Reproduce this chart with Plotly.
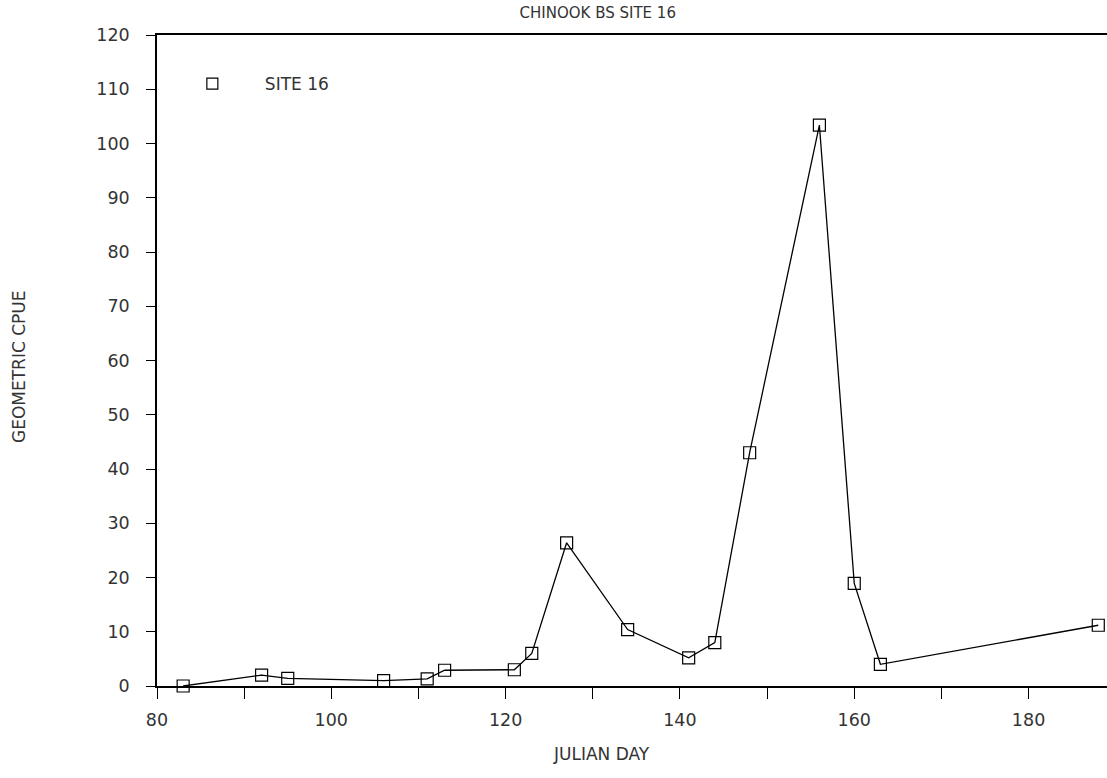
import plotly.graph_objects as go

# Julian day of each sample and the geometric CPUE for site 16
julian_day = [83, 92, 95, 106, 111, 113, 121, 123, 127, 134, 141, 144, 148, 156, 160, 163, 188]
cpue = [0.0, 2.0, 1.4, 1.0, 1.3, 2.9, 3.0, 6.0, 26.4, 10.4, 5.2, 8.0, 43.0, 103.4, 18.9, 4.0, 11.2]

series_name = "SITE 16"
chart_title = "CHINOOK BS SITE 16"
x_title = "JULIAN DAY"
y_title = "GEOMETRIC CPUE"

FONT = "DejaVu Sans, Verdana, sans-serif"
INK = "#333"

fig = go.Figure()

fig.add_trace(go.Scatter(
    x=julian_day, y=cpue,
    mode="lines+markers",
    line=dict(color="black", width=1.3),
    marker=dict(symbol="square-open", size=12, color="black", line=dict(width=1.2)),
    showlegend=False,
    cliponaxis=False,
))

# legend entry shows only the square symbol
fig.add_trace(go.Scatter(
    x=[None], y=[None],
    mode="markers",
    name=series_name,
    marker=dict(symbol="square-open", size=11, color="black", line=dict(width=1.2)),
))

fig.update_layout(
    width=1107, height=778,
    margin=dict(l=157, r=0, t=35, b=92),
    paper_bgcolor="white",
    plot_bgcolor="white",
    font=dict(family=FONT, size=15, color=INK),
    title=dict(text=chart_title, x=0.54, xanchor="center", y=0.983, yanchor="middle",
               font=dict(size=15, family=FONT, color=INK)),
    legend=dict(x=0.003, y=0.9247, xanchor="left", yanchor="middle",
                bgcolor="rgba(0,0,0,0)", itemwidth=95,
                font=dict(size=17, family=FONT, color=INK)),
    xaxis=dict(
        range=[80, 189], dtick=20, tick0=80,
        ticks="outside", ticklen=11, tickwidth=1.2, tickcolor="black",
        minor=dict(dtick=10, tick0=80, ticks="outside", ticklen=11, tickwidth=1.2, tickcolor="black"),
        showline=True, linecolor="black", linewidth=1.5, mirror=True,
        showgrid=False, zeroline=False,
        ticklabelstandoff=6,
        tickfont=dict(size=17.5, family=FONT, color=INK),
    ),
    yaxis=dict(
        range=[0, 120], dtick=10,
        ticks="outside", ticklen=9, tickwidth=1.2, tickcolor="black",
        showline=True, linecolor="black", linewidth=1.5,
        showgrid=False, zeroline=False,
        ticklabelstandoff=13,
        tickfont=dict(size=17.5, family=FONT, color=INK),
    ),
    annotations=[
        dict(text=x_title, xref="paper", yref="paper", x=0.468, y=0,
             yshift=-68, xanchor="center", yanchor="middle", showarrow=False,
             font=dict(size=17, family=FONT, color=INK)),
        dict(text=y_title, xref="paper", yref="paper", x=0, y=0.49,
             xshift=-138, xanchor="center", yanchor="middle", showarrow=False,
             textangle=-90, font=dict(size=17, family=FONT, color=INK)),
    ],
)

fig.write_html("out.html")
